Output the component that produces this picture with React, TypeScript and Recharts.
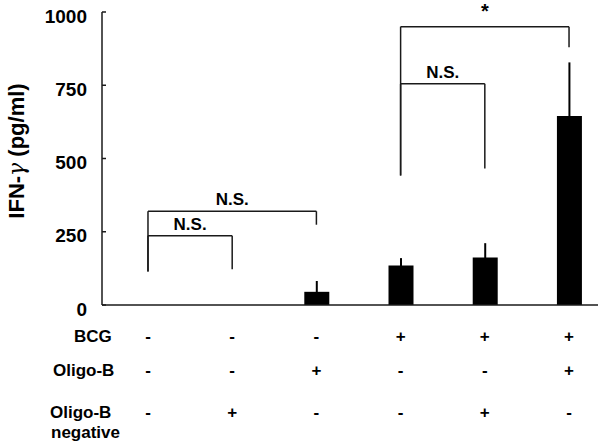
import React from 'react';
import { BarChart, Bar, XAxis, YAxis, ErrorBar, ReferenceLine } from 'recharts';

// ---- data ----
const groups = [1, 2, 3, 4, 5, 6];
const ifnMean = [0, 0, 45, 135, 162, 645];
const ifnSE = [0, 0, 37, 25, 49, 183];
const bcgRow = ['-', '-', '-', '+', '+', '+'];
const oligoBRow = ['-', '-', '+', '-', '-', '+'];
const oligoNegRow = ['-', '+', '-', '-', '+', '-'];
const yTicks = [0, 250, 500, 750, 1000];
const rowNames = ['BCG', 'Oligo-B', 'Oligo-B', 'negative'];
const yTitleParts = ['IFN-', '\u03b3', ' (pg/ml)'];

const brackets = [
  { from: 1, to: 2, level: 236, leftFoot: 114, rightFoot: 122, label: 'N.S.' },
  { from: 1, to: 3, level: 320, leftFoot: 114, rightFoot: 274, label: 'N.S.' },
  { from: 4, to: 5, level: 755, leftFoot: 442, rightFoot: 466, label: 'N.S.' },
  { from: 4, to: 6, level: 950, leftFoot: 442, rightFoot: 880, label: '*' },
];

const data = groups.map((g, i) => ({ group: g, mean: ifnMean[i], se: ifnSE[i] }));

// ---- style ----
const FONT = "Arial, 'Liberation Sans', sans-serif";
const LINE = '#1a1a1a';
const xDomain = [0.454, 6.344];

const YTick = (props: any) => {
  const { x, y, payload } = props;
  return (
    <text x={x} y={y + 4} textAnchor="end" dominantBaseline="central"
      fontFamily={FONT} fontSize={19} fontWeight="bold" fill="#000">
      {payload.value}
    </text>
  );
};

const XTick = (props: any) => {
  const { x, y, payload } = props;
  const i = groups.indexOf(payload.value);
  if (i < 0) return null;
  const st = { fontFamily: FONT, fontSize: 17, fontWeight: 'bold' as const, fill: '#000' };
  return (
    <g>
      <text x={x} y={y + 37} textAnchor="middle" {...st}>{bcgRow[i]}</text>
      <text x={x} y={y + 71} textAnchor="middle" {...st}>{oligoBRow[i]}</text>
      <text x={x} y={y + 113} textAnchor="middle" {...st}>{oligoNegRow[i]}</text>
    </g>
  );
};

export default function App() {
  const lines: any[] = [];
  brackets.forEach((b, k) => {
    const isStar = b.label === '*';
    lines.push(
      <ReferenceLine key={`h${k}`} ifOverflow="visible" stroke={LINE} strokeWidth={1.5}
        segment={[{ x: b.from, y: b.level }, { x: b.to, y: b.level }]}
        label={{
          value: b.label, position: 'top', offset: isStar ? 9 : 6,
          fill: '#000', fontSize: isStar ? 20 : 17, fontWeight: 'bold', fontFamily: FONT,
        }} />,
      <ReferenceLine key={`l${k}`} ifOverflow="visible" stroke={LINE} strokeWidth={1.5}
        segment={[{ x: b.from, y: b.level }, { x: b.from, y: b.leftFoot }]} />,
      <ReferenceLine key={`r${k}`} ifOverflow="visible" stroke={LINE} strokeWidth={1.5}
        segment={[{ x: b.to, y: b.level }, { x: b.to, y: b.rightFoot }]} />
    );
  });

  const rowSt = { fontFamily: FONT, fontSize: 17, fontWeight: 'bold' as const, fill: '#000' };

  return (
    <div style={{ position: 'absolute', left: 0, top: 0, width: 600, height: 443, background: '#fff' }}>
      <BarChart width={600} height={443} data={data}
        margin={{ top: 12, right: 2, bottom: 108, left: 0 }}>
        <XAxis dataKey="group" type="number" domain={xDomain} ticks={groups}
          allowDataOverflow height={30}
          tickLine={false} tickSize={0} tickMargin={0}
          axisLine={{ stroke: LINE, strokeWidth: 1.5 }} tick={<XTick />} />
        <YAxis type="number" domain={[0, 1000]} ticks={yTicks} width={102}
          allowDataOverflow
          tickSize={-4} tickMargin={19}
          tickLine={{ stroke: LINE, strokeWidth: 1.5 }}
          axisLine={{ stroke: LINE, strokeWidth: 1.5 }} tick={<YTick />} />
        <Bar dataKey="mean" fill="#000" barSize={25} isAnimationActive={false}>
          <ErrorBar dataKey="se" direction="y" width={0} stroke="#000" strokeWidth={2}
            isAnimationActive={false} />
        </Bar>
        {lines}
      </BarChart>
      <svg width={600} height={443} style={{ position: 'absolute', left: 0, top: 0, pointerEvents: 'none' }}>
        <text x={24} y={151} transform="rotate(-90 24 151)" textAnchor="middle"
          fontFamily={FONT} fontSize={22} fontWeight="bold" fill="#000">
          {yTitleParts[0]}
          <tspan fontFamily="'DejaVu Serif', serif" fontStyle="italic" fontWeight="normal">{yTitleParts[1]}</tspan>
          {yTitleParts[2]}
        </text>
        <text x={74} y={342} {...rowSt}>{rowNames[0]}</text>
        <text x={53} y={376} {...rowSt}>{rowNames[1]}</text>
        <text x={50} y={418} {...rowSt}>{rowNames[2]}</text>
        <text x={51} y={438} {...rowSt}>{rowNames[3]}</text>
      </svg>
    </div>
  );
}
